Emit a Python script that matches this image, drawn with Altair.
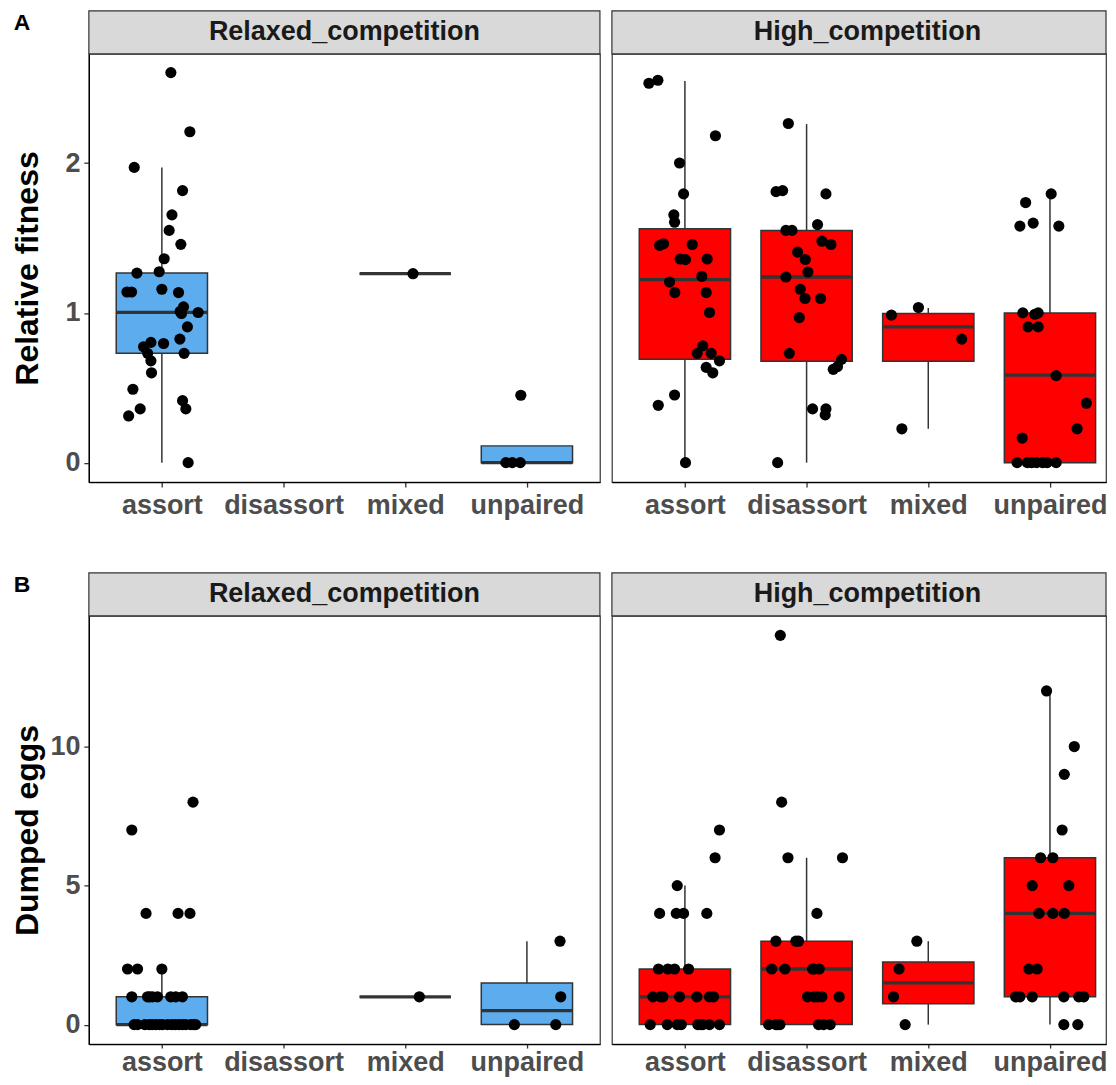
import json
import altair as alt
import pandas as pd

FONT = "Liberation Sans"
DARK = "#333333"

categories = ["assort", "disassort", "mixed", "unpaired"]
competitions = ["Relaxed_competition", "High_competition"]
panel_tags = ["A", "B"]
y_titles = ["Relative fitness", "Dumped eggs"]
fit_ticks = [0, 1, 2]
egg_ticks = [0, 5, 10]
fit_domain = [-0.13, 2.73]
egg_domain = [-0.7, 14.7]
fill_colors = ["#5CACEE", "#FF0000"]

# ---------------- Panel A: relative fitness (points: value, horizontal jitter) ----------
fit_rel_assort = [2.605, 2.21, 1.972, 1.817, 1.655, 1.551, 1.458, 1.362, 1.266, 1.275, 1.14,
                  1.14, 1.158, 1.136, 1.04, 0.996, 1.003, 1.01, 0.907, 0.825, 0.803, 0.774,
                  0.796, 0.73, 0.73, 0.68, 0.6, 0.49, 0.414, 0.359, 0.359, 0.312, 0.0]
fit_rel_assort_jit = [0.074, 0.23, -0.227, 0.17, 0.083, 0.06, 0.156, 0.019, -0.205, -0.022, -0.287,
                      -0.249, 0.0, 0.137, 0.178, 0.161, 0.298, 0.15, 0.21, 0.148, -0.09, -0.15,
                      0.014, 0.183, -0.117, -0.09, -0.085, -0.238, 0.17, 0.197, -0.178, -0.273, 0.216]
fit_rel_mixed = [1.262]
fit_rel_mixed_jit = [0.064]
fit_rel_unpaired = [0.45, 0.0, 0.0, 0.0]
fit_rel_unpaired_jit = [-0.05, -0.173, -0.055, -0.12]

fit_high_assort = [2.534, 2.554, 2.183, 2.001, 1.795, 1.655, 1.606, 1.451, 1.462, 1.457, 1.36,
                   1.356, 1.36, 1.244, 1.206, 1.136, 1.136, 1.003, 0.78, 0.73, 0.73, 0.68,
                   0.636, 0.6, 0.452, 0.383, 0.0]
fit_high_assort_jit = [-0.296, -0.222, 0.251, -0.044, -0.011, -0.091, -0.085, -0.208, -0.176, 0.06,
                       -0.039, 0.005, 0.183, 0.139, -0.126, -0.083, 0.175, 0.202, 0.147, 0.101,
                       0.216, 0.284, 0.175, 0.229, -0.085, -0.219, 0.005]
fit_high_disassort = [2.265, 1.81, 1.817, 1.795, 1.551, 1.551, 1.59, 1.479, 1.457, 1.406, 1.357,
                      1.273, 1.24, 1.158, 1.096, 1.096, 0.969, 0.73, 0.69, 0.641, 0.623, 0.359,
                      0.359, 0.319, 0.0]
fit_high_disassort_jit = [-0.15, -0.251, -0.197, 0.159, -0.17, -0.12, 0.09, 0.126, 0.2, -0.074,
                          -0.011, 0.011, -0.17, -0.052, -0.013, 0.115, -0.06, -0.142, 0.287, 0.254,
                          0.219, 0.049, 0.159, 0.153, -0.238]
fit_high_mixed = [0.985, 1.036, 0.825, 0.226]
fit_high_mixed_jit = [-0.303, -0.081, 0.275, -0.217]
fit_high_unpaired = [1.795, 1.737, 1.58, 1.6, 1.58, 1.0, 0.991, 1.0, 0.907, 0.907, 0.581, 0.397,
                     0.226, 0.164, 0.0, 0.0, 0.0, 0.0, 0.0, 0.0, 0.0]
fit_high_unpaired_jit = [0.01, -0.2, -0.247, -0.138, 0.073, -0.223, -0.124, -0.097, -0.18, -0.097,
                         0.051, 0.3, 0.223, -0.228, -0.27, -0.186, -0.11, -0.023, 0.051, -0.15, -0.06]

# box statistics (Panel A)
fit_box_comp = ["Relaxed_competition", "Relaxed_competition", "Relaxed_competition",
                "High_competition", "High_competition", "High_competition", "High_competition"]
fit_box_cat = ["assort", "mixed", "unpaired", "assort", "disassort", "mixed", "unpaired"]
fit_q1 = [0.73, 1.262, 0.0, 0.69, 0.678, 0.678, 0.0]
fit_med = [1.003, 1.262, 0.0, 1.222, 1.24, 0.907, 0.585]
fit_q3 = [1.266, 1.262, 0.112, 1.562, 1.551, 0.996, 1.0]
fit_lo = [0.0, 1.262, 0.0, 0.0, 0.0, 0.226, 0.0]
fit_hi = [1.972, 1.262, 0.112, 2.549, 2.261, 1.033, 1.795]

# ---------------- Panel B: dumped eggs ----------
egg_rel_assort = [8, 7, 4, 4, 4, 2, 2, 2, 1, 1, 1, 1, 1, 1, 1, 1,
                  0, 0, 0, 0, 0, 0, 0, 0, 0, 0, 0, 0, 0, 0, 0, 0, 0]
egg_rel_assort_jit = [0.256, -0.247, -0.13, 0.133, 0.231, -0.282, -0.2, 0.0, -0.247, -0.118, -0.077,
                      -0.036, 0.073, 0.114, 0.169, -0.1, -0.228, -0.105, -0.05, 0.005, 0.046, 0.141,
                      0.196, 0.237, 0.278, -0.2, -0.14, -0.08, -0.02, 0.08, 0.11, 0.17, 0.26]
egg_rel_mixed = [1]
egg_rel_mixed_jit = [0.116]
egg_rel_unpaired = [3, 1, 0, 0]
egg_rel_unpaired_jit = [0.272, 0.278, -0.103, 0.237]

egg_high_assort = [7, 6, 5, 4, 4, 4, 4, 2, 2, 2, 2, 1, 1, 1, 1, 1, 1, 1,
                   0, 0, 0, 0, 0, 0, 0, 0, 0]
egg_high_assort_jit = [0.284, 0.248, -0.063, -0.208, -0.071, -0.011, 0.18, -0.217, -0.14, -0.085,
                       0.03, -0.263, -0.181, -0.044, 0.098, 0.202, 0.235, -0.2, -0.285, -0.145,
                       -0.063, -0.03, 0.106, 0.147, 0.202, 0.284, 0.13]
egg_high_disassort = [14, 8, 6, 6, 4, 3, 3, 3, 2, 2, 2, 2, 2, 1, 1, 1, 1, 1,
                      0, 0, 0, 0, 0, 0, 0]
egg_high_disassort_jit = [-0.216, -0.205, -0.153, 0.295, 0.085, -0.252, -0.088, -0.066, -0.287,
                          -0.178, 0.049, 0.104, 0.06, 0.008, 0.063, 0.126, 0.268, 0.09, -0.312,
                          -0.252, -0.219, 0.098, 0.194, -0.24, 0.14]
egg_high_mixed = [3, 2, 1, 0]
egg_high_mixed_jit = [-0.094, -0.24, -0.286, -0.19]
egg_high_unpaired = [12, 10, 9, 7, 6, 6, 5, 5, 4, 4, 4, 2, 2, 1, 1, 1, 1, 1, 1, 0, 0]
egg_high_unpaired_jit = [-0.028, 0.2, 0.118, 0.1, -0.077, 0.024, -0.146, 0.155, -0.09, 0.024, 0.118,
                         -0.173, -0.105, -0.282, -0.247, -0.146, 0.114, 0.237, 0.278, 0.114, 0.229]

egg_box_comp = fit_box_comp
egg_box_cat = fit_box_cat
egg_q1 = [0, 1, 0, 0, 0, 0.75, 1]
egg_med = [0, 1, 0.5, 1, 2, 1.5, 4]
egg_q3 = [1, 1, 1.5, 2, 3, 2.25, 6]
egg_lo = [0, 1, 0, 0, 0, 0, 0]
egg_hi = [2, 1, 3, 5, 6, 3, 12]


def points_frame(groups):
    rows = []
    for comp, cat, vals, jits in groups:
        for v, j in zip(vals, jits):
            rows.append({"comp": comp, "cat": cat, "value": v, "jitter": j})
    return pd.DataFrame(rows)


R, H = competitions
fit_points = points_frame([
    (R, "assort", fit_rel_assort, fit_rel_assort_jit),
    (R, "mixed", fit_rel_mixed, fit_rel_mixed_jit),
    (R, "unpaired", fit_rel_unpaired, fit_rel_unpaired_jit),
    (H, "assort", fit_high_assort, fit_high_assort_jit),
    (H, "disassort", fit_high_disassort, fit_high_disassort_jit),
    (H, "mixed", fit_high_mixed, fit_high_mixed_jit),
    (H, "unpaired", fit_high_unpaired, fit_high_unpaired_jit),
])
egg_points = points_frame([
    (R, "assort", egg_rel_assort, egg_rel_assort_jit),
    (R, "mixed", egg_rel_mixed, egg_rel_mixed_jit),
    (R, "unpaired", egg_rel_unpaired, egg_rel_unpaired_jit),
    (H, "assort", egg_high_assort, egg_high_assort_jit),
    (H, "disassort", egg_high_disassort, egg_high_disassort_jit),
    (H, "mixed", egg_high_mixed, egg_high_mixed_jit),
    (H, "unpaired", egg_high_unpaired, egg_high_unpaired_jit),
])
fit_boxes = pd.DataFrame({"comp": fit_box_comp, "cat": fit_box_cat, "q1": fit_q1, "med": fit_med,
                          "q3": fit_q3, "lo": fit_lo, "hi": fit_hi})
egg_boxes = pd.DataFrame({"comp": egg_box_comp, "cat": egg_box_cat, "q1": egg_q1, "med": egg_med,
                          "q3": egg_q3, "lo": egg_lo, "hi": egg_hi})

CAT_EXPR = "indexof(%s, datum.cat) + 1" % json.dumps(categories)
LABEL_EXPR = "%s[datum.value - 1]" % json.dumps(categories)

PANEL_H = 429
STRIP_H = 43
FULL_W = 512
UNIT = FULL_W / 4.2
WIDTHS = [512, 495]


def panel(points, boxes, comp, fill, ydomain, yticks, ytitle, width, show_y, tag, xtick, xlabpad):
    xmax = 0.4 + width / UNIT
    xscale = alt.Scale(domain=[0.4, xmax], nice=False, zero=False)
    yscale = alt.Scale(domain=ydomain, nice=False, zero=False)
    xaxis = alt.Axis(values=[1, 2, 3, 4], labelExpr=LABEL_EXPR, title=None, grid=False,
                     domainColor="black", domainWidth=1.3, tickColor=DARK, tickWidth=1.3,
                     tickSize=xtick, labelFont=FONT, labelFontSize=27, labelFontWeight="bold",
                     labelColor="#4D4D4D", labelPadding=xlabpad)
    if show_y:
        yaxis = alt.Axis(values=yticks, title=ytitle, grid=False, domainColor="black",
                         domainWidth=1.3, tickColor=DARK, tickWidth=1.3, tickSize=5,
                         labelFont=FONT, labelFontSize=27, labelFontWeight="bold",
                         labelColor="#4D4D4D", labelPadding=4, titleFont=FONT,
                         titleFontSize=32, titleFontWeight="bold", titleColor="black",
                         titleX=-51, titleY=PANEL_H / 2, titleAlign="center",
                         titleBaseline="alphabetic", titleAngle=270)
    else:
        yaxis = None

    def X(f):
        return alt.X(f, scale=xscale, axis=xaxis)

    def Y(f):
        return alt.Y(f, scale=yscale, axis=yaxis)

    pred = alt.FieldEqualPredicate(field="comp", equal=comp)
    b = (alt.Chart(boxes).transform_filter(pred)
         .transform_calculate(xi=CAT_EXPR)
         .transform_calculate(xl="datum.xi - 0.375", xr="datum.xi + 0.375"))
    whisk_lo = b.mark_rule(color=DARK, strokeWidth=1.5).encode(x=X("xi:Q"), y=Y("lo:Q"), y2="q1:Q")
    whisk_hi = b.mark_rule(color=DARK, strokeWidth=1.5).encode(x=X("xi:Q"), y=Y("q3:Q"), y2="hi:Q")
    box = b.mark_rect(fill=fill, stroke=DARK, strokeWidth=1.5).encode(
        x=X("xl:Q"), x2="xr:Q", y=Y("q1:Q"), y2="q3:Q")
    med = b.mark_rule(color=DARK, strokeWidth=3.3).encode(x=X("xl:Q"), x2="xr:Q", y=Y("med:Q"))
    p = (alt.Chart(points).transform_filter(pred)
         .transform_calculate(xi=CAT_EXPR)
         .transform_calculate(xp="datum.xi + datum.jitter"))
    dots = p.mark_circle(size=125, color="black", opacity=1).encode(x=X("xp:Q"), y=Y("value:Q"))

    # facet strip drawn above the plot area
    sb = alt.Chart(pd.DataFrame({"label": [comp], "tag": [tag or ""]}))
    srect = sb.mark_rect(fill="#D9D9D9", stroke=DARK, strokeWidth=1.2).encode(
        x=alt.value(0), x2=alt.value(width), y=alt.value(-STRIP_H), y2=alt.value(0))
    stxt = sb.mark_text(font=FONT, fontSize=27, fontWeight="bold", color="#1A1A1A",
                        baseline="middle", align="center").encode(
        x=alt.value(FULL_W / 2), y=alt.value(-STRIP_H / 2), text="label:N")
    layers = [whisk_lo, whisk_hi, box, med, dots, srect, stxt]
    if tag:
        layers.append(sb.mark_text(font=FONT, fontSize=23, fontWeight="bold", color="black",
                                   baseline="alphabetic", align="left").encode(
            x=alt.value(-75.3), y=alt.value(-STRIP_H + 19), text="tag:N"))
    return alt.layer(*layers).properties(width=width, height=PANEL_H)


panels = []
for points, boxes, ydom, yt, ytitle, tag, tk, lp in [
        (fit_points, fit_boxes, fit_domain, fit_ticks, y_titles[0], panel_tags[0], 5, 5),
        (egg_points, egg_boxes, egg_domain, egg_ticks, y_titles[1], panel_tags[1], 4, 1)]:
    for i, comp in enumerate(competitions):
        panels.append(panel(points, boxes, comp, fill_colors[i], ydom, yt, ytitle,
                            WIDTHS[i], i == 0, tag if i == 0 else None, tk, lp))

chart = (alt.concat(*panels, columns=2, spacing={"row": 134, "column": 12}, bounds="flush")
         .properties(padding={"left": 3, "top": 0, "right": 0, "bottom": 0})
         .configure(font=FONT, background="white")
         .configure_view(stroke=DARK, strokeWidth=1.2))

chart.save("out.html", embed_options={"renderer": "svg", "actions": False})
